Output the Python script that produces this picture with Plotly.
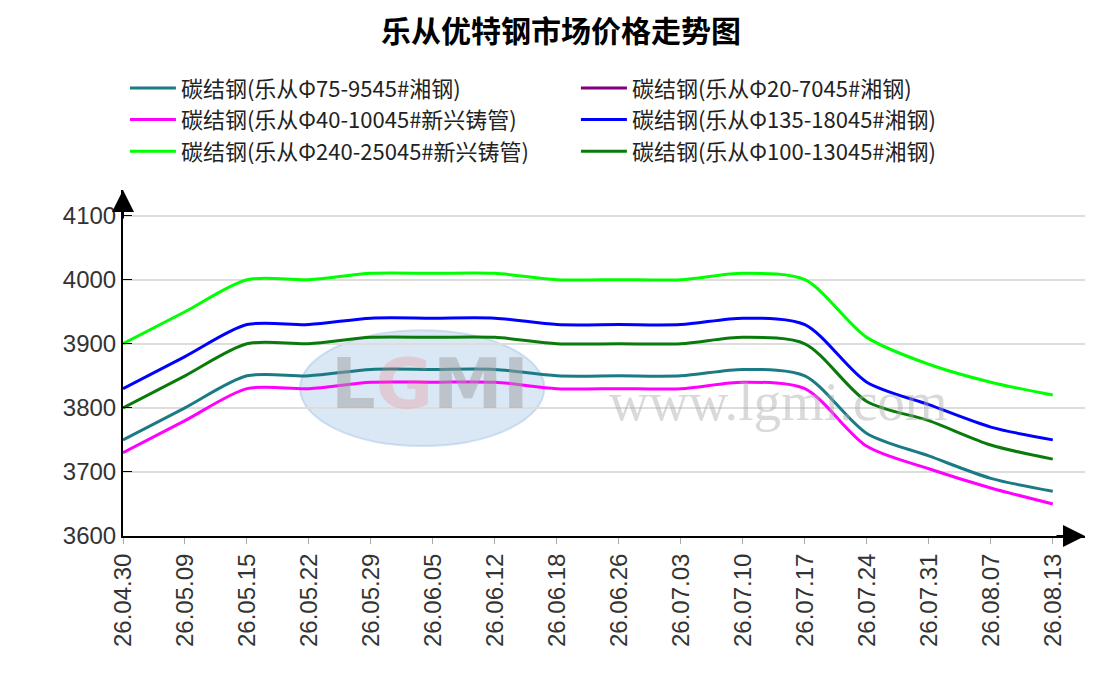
import plotly.graph_objects as go

dates = ["26.04.30", "26.05.09", "26.05.15", "26.05.22", "26.05.29", "26.06.05",
         "26.06.12", "26.06.18", "26.06.26", "26.07.03", "26.07.10", "26.07.17",
         "26.07.24", "26.07.31", "26.08.07", "26.08.13"]

phi75 = [3750, 3800, 3850, 3850, 3860, 3860, 3860, 3850, 3850, 3850, 3860, 3850, 3760, 3725, 3690, 3670]
phi20 = [None] * 16
phi40 = [3730, 3780, 3830, 3830, 3840, 3840, 3840, 3830, 3830, 3830, 3840, 3830, 3740, 3705, 3675, 3650]
phi135 = [3830, 3880, 3930, 3930, 3940, 3940, 3940, 3930, 3930, 3930, 3940, 3930, 3840, 3805, 3770, 3750]
phi240 = [3900, 3950, 4000, 4000, 4010, 4010, 4010, 4000, 4000, 4000, 4010, 4000, 3910, 3868, 3840, 3820]
phi100 = [3800, 3850, 3900, 3900, 3910, 3910, 3910, 3900, 3900, 3900, 3910, 3900, 3810, 3780, 3742, 3720]

series = [
    ("碳结钢(乐从Φ75-9545#湘钢)", phi75, "#1b7b84"),
    ("碳结钢(乐从Φ20-7045#湘钢)", phi20, "#800080"),
    ("碳结钢(乐从Φ40-10045#新兴铸管)", phi40, "#ff00ff"),
    ("碳结钢(乐从Φ135-18045#湘钢)", phi135, "#0000ff"),
    ("碳结钢(乐从Φ240-25045#新兴铸管)", phi240, "#00ff00"),
    ("碳结钢(乐从Φ100-13045#湘钢)", phi100, "#0a7a0a"),
]

cjk = "Noto Sans CJK SC, Noto Sans, sans-serif"
num = "Liberation Sans, Arial, sans-serif"

fig = go.Figure()

# faint LGMI watermark
fig.add_shape(type="circle", xref="paper", yref="paper",
              x0=0.184, x1=0.438, y0=0.26, y1=0.595,
              fillcolor="rgba(150,185,225,0.35)", line=dict(color="rgba(150,185,225,0.4)", width=2),
              layer="below")
fig.add_annotation(text="<b>L<span style='color:rgba(240,120,120,0.5)'>G</span>MI</b>",
                   xref="paper", yref="paper", x=0.319, y=0.44,
                   xanchor="center", yanchor="middle", showarrow=False,
                   font=dict(family="DejaVu Sans", size=70, color="rgba(160,160,160,0.5)"))
fig.add_annotation(text="www.lgmi.com", xref="paper", yref="paper", x=0.681, y=0.39,
                   xanchor="center", yanchor="middle", showarrow=False,
                   font=dict(family="Liberation Serif", size=55, color="rgba(170,170,170,0.45)"))

for name, vals, color in series:
    fig.add_trace(go.Scatter(
        x=dates, y=vals, name=name, mode="lines",
        line=dict(color=color, width=3, shape="spline", smoothing=0.8),
    ))

# axis arrows
fig.add_annotation(xref="paper", yref="paper", x=1.0, y=0, ax=-30, ay=0,
                   text="", showarrow=True, arrowhead=2, arrowsize=2.2, arrowwidth=2, arrowcolor="black")
fig.add_annotation(xref="paper", yref="paper", x=0, y=1.0, ax=0, ay=30,
                   text="", showarrow=True, arrowhead=2, arrowsize=2.2, arrowwidth=2, arrowcolor="black")

fig.update_layout(
    width=1106, height=700,
    plot_bgcolor="white", paper_bgcolor="white",
    margin=dict(l=115, r=29, t=182, b=172),
    title=dict(text="<b>乐从优特钢市场价格走势图</b>", x=0.5, xanchor="center",
               y=0.966, yanchor="middle",
               font=dict(family=cjk, size=30, color="black")),
    font=dict(family=cjk, color="#222222"),
    legend=dict(orientation="h", x=0.002, y=1.355, xanchor="left", yanchor="top",
                entrywidth=390, entrywidthmode="pixels", itemwidth=46,
                font=dict(family=cjk, size=22, color="#222222")),
)

fig.update_xaxes(
    type="category", range=[0, 15.52], automargin=False,
    showline=True, linecolor="black", linewidth=2,
    ticks="outside", ticklen=6, tickcolor="#aaaaaa",
    tickangle=-90, tickfont=dict(family=num, size=24, color="#333333"),
    showgrid=False, zeroline=False,
)
fig.update_yaxes(
    range=[3600, 4140], tickvals=[3600, 3700, 3800, 3900, 4000, 4100], automargin=False,
    showline=True, linecolor="black", linewidth=2,
    ticks="inside", ticklen=9, tickcolor="black",
    tickfont=dict(family=num, size=24, color="#333333"),
    showgrid=True, gridcolor="#dddddd", gridwidth=1.5, zeroline=False,
)

fig.write_html("out.html")
